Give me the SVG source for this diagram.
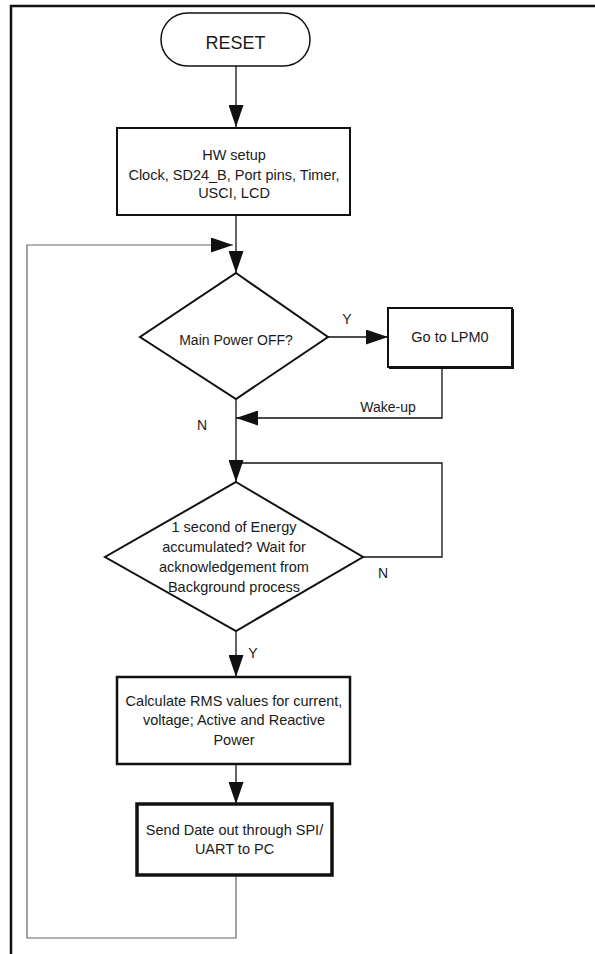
<svg xmlns="http://www.w3.org/2000/svg" width="595" height="954" viewBox="0 0 595 954">
<style>
text{font-family:"Liberation Sans",Arial,sans-serif;font-size:14.5px;fill:#1a1a1a;text-anchor:middle}
.box{fill:#fff;stroke:#111}
.conn{fill:none;stroke:#111;stroke-width:1.3}
.loop{fill:none;stroke:#666;stroke-width:1.2}
.lbl{font-size:14px}
</style>
<defs>
<marker id="ah" markerUnits="userSpaceOnUse" markerWidth="22" markerHeight="15" refX="22" refY="7.5" orient="auto">
<path d="M0,0 L22,7.5 L0,15 z" fill="#111"/>
</marker>
</defs>
<rect width="595" height="954" fill="#fff"/>
<path d="M11,954 V6 H595" fill="none" stroke="#111" stroke-width="2.5"/>

<g id="connectors">
<path class="conn" d="M236,66 V127" marker-end="url(#ah)"/>
<path class="conn" d="M236,215 V273" marker-end="url(#ah)"/>
<path class="loop" d="M236,875 V938 H27 V245 H233" marker-end="url(#ah)"/>
<path class="conn" d="M328,337 H388" marker-end="url(#ah)"/>
<path class="conn" d="M442,367 V418 H236" marker-end="url(#ah)"/>
<path class="conn" d="M236,399 V482" marker-end="url(#ah)"/>
<path class="conn" d="M363,557 H442 V463 H236"/>
<path class="conn" d="M236,631 V677" marker-end="url(#ah)"/>
<path class="conn" d="M236,764 V804" marker-end="url(#ah)"/>
<text class="lbl" x="347" y="324">Y</text>
<text class="lbl" x="388" y="412">Wake-up</text>
<text class="lbl" x="202" y="430">N</text>
<text class="lbl" x="383" y="578">N</text>
<text class="lbl" x="253" y="658">Y</text>
</g>

<g id="reset">
<rect class="box" x="161" y="13" width="149" height="53" rx="26.5" stroke-width="1.5"/>
<text x="235.5" y="49" style="font-size:18px">RESET</text>
</g>

<g id="hwsetup">
<rect class="box" x="117" y="128" width="233" height="87" stroke-width="2"/>
<text x="234" y="160">HW setup</text>
<text x="234" y="180">Clock, SD24_B, Port pins, Timer,</text>
<text x="234" y="198">USCI, LCD</text>
</g>

<g id="mainpower">
<polygon class="box" points="236,273 328,337 236,399 140,337" stroke-width="2"/>
<text x="236" y="345" style="font-size:14px">Main Power OFF?</text>
</g>

<g id="lpm0">
<rect class="box" x="388" y="308" width="124" height="59" stroke-width="2"/>
<path d="M389,368 H513 V309" fill="none" stroke="#111" stroke-width="2"/>
<text x="450" y="342">Go to LPM0</text>
</g>

<g id="energy">
<polygon class="box" points="236,482 363,557 236,631 105,557" stroke-width="2"/>
<text x="234" y="532">1 second of Energy</text>
<text x="234" y="552">accumulated? Wait for</text>
<text x="234" y="572">acknowledgement from</text>
<text x="234" y="592">Background process</text>
</g>

<g id="calc">
<rect class="box" x="117" y="677" width="233" height="87" stroke-width="2.5"/>
<text x="234" y="706">Calculate RMS values for current,</text>
<text x="234" y="725">voltage; Active and Reactive</text>
<text x="234" y="745">Power</text>
</g>

<g id="send">
<rect class="box" x="137" y="804" width="195" height="71" stroke-width="3.5"/>
<text x="234.5" y="835">Send Date out through SPI/</text>
<text x="234.5" y="854">UART to PC</text>
</g>
</svg>
